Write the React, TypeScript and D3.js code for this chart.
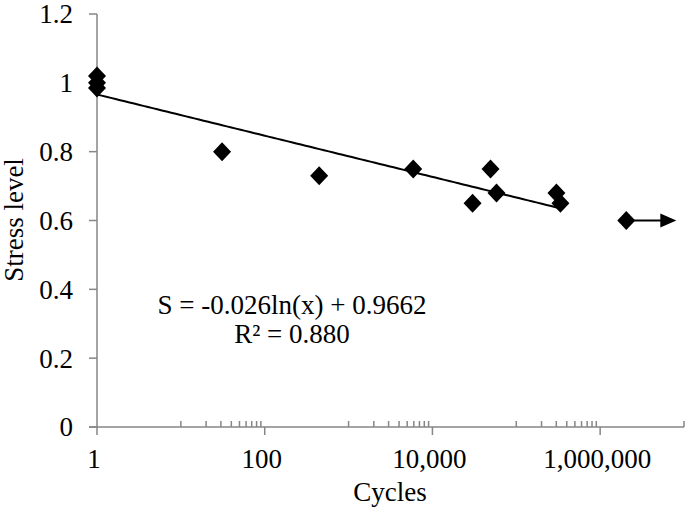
import React from "react";
import * as d3 from "d3";

// test results: cycles to failure vs stress level
const cycles = [1, 1, 1, 31, 446, 5900, 49300, 30100, 58100, 301000, 336000];
const stress = [1.02, 1.0, 0.985, 0.8, 0.73, 0.75, 0.75, 0.65, 0.68, 0.68, 0.65];

// run-out specimen (did not fail)
const runoutCycles = [2050000];
const runoutStress = [0.6];
const runoutArrowTo = 8100000;

// log fit given on the chart
const fitSlope = -0.026;
const fitIntercept = 0.9662;
const fitR2 = 0.88;

const yTicks = [0, 0.2, 0.4, 0.6, 0.8, 1, 1.2];
const xMajorTicks = [1, 100, 10000, 1000000];

const W = 685;
const H = 511;
const margin = { left: 97, right: 1, top: 14, bottom: 84 };
const font = "'Liberation Serif', 'Times New Roman', serif";
const fs = 27;
const axisColor = "#868686";

export default function App() {
  const x = d3
    .scaleLog()
    .domain([1, 1e7])
    .range([margin.left, W - margin.right]);
  const y = d3
    .scaleLinear()
    .domain([0, 1.2])
    .range([H - margin.bottom, margin.top]);

  const x0 = margin.left;
  const y0 = H - margin.bottom;

  // minor ticks: 10..90 times each major value
  const minor: number[] = [];
  xMajorTicks.slice(0, -1).forEach((m) => {
    for (let k = 1; k <= 9; k++) minor.push(m * 10 * k);
  });

  const fitMax = d3.max(cycles) as number;
  const fitXs = d3.range(0, 101).map((i) => Math.exp((Math.log(fitMax) * i) / 100));
  const fitLine = d3
    .line<number>()
    .x((d) => x(d))
    .y((d) => y(fitSlope * Math.log(d) + fitIntercept));

  const diamond = (cx: number, cy: number, rx = 9, ry = 9.5) =>
    `M${cx},${cy - ry}L${cx + rx},${cy}L${cx},${cy + ry}L${cx - rx},${cy}Z`;

  const fmt = d3.format(",");

  return (
    <svg width={W} height={H} style={{ position: "absolute", left: 0, top: 0 }}>
      <rect width={W} height={H} fill="#fff" />

      {/* y axis */}
      <line x1={x0} x2={x0} y1={y(1.2)} y2={y0} stroke={axisColor} strokeWidth={1.5} />
      {yTicks.map((t) => (
        <g key={t}>
          <line x1={x0 - 8} x2={x0} y1={y(t)} y2={y(t)} stroke={axisColor} strokeWidth={1.5} />
          <text
            x={x0 - 24}
            y={y(t)}
            dy="0.35em"
            textAnchor="end"
            fontFamily={font}
            fontSize={fs}
          >
            {t}
          </text>
        </g>
      ))}

      {/* x axis */}
      <line x1={x0 - 8} x2={x(1e7)} y1={y0} y2={y0} stroke={axisColor} strokeWidth={1.5} />
      {minor.map((t) => (
        <line key={t} x1={x(t)} x2={x(t)} y1={y0 - 6} y2={y0} stroke={axisColor} strokeWidth={1.5} />
      ))}
      <line x1={x(1e7)} x2={x(1e7)} y1={y0 - 6} y2={y0} stroke={axisColor} strokeWidth={1.5} />
      {xMajorTicks.map((t) => (
        <g key={t}>
          <line x1={x(t)} x2={x(t)} y1={y0} y2={y0 + 8} stroke={axisColor} strokeWidth={1.5} />
          <text x={x(t) - 3} y={y0 + 41} textAnchor="middle" fontFamily={font} fontSize={fs}>
            {fmt(t)}
          </text>
        </g>
      ))}

      {/* trendline */}
      <path d={fitLine(fitXs) || ""} fill="none" stroke="#000" strokeWidth={2} />

      {/* data points */}
      {cycles.map((c, i) => (
        <path key={i} d={diamond(x(c), y(stress[i]))} fill="#000" />
      ))}

      {/* run-out */}
      {runoutCycles.map((c, i) => {
        const ax = x(runoutArrowTo);
        const ay = y(runoutStress[i]);
        return (
          <g key={"r" + i}>
            <line x1={x(c)} x2={ax - 14} y1={ay} y2={ay} stroke="#000" strokeWidth={2} />
            <path d={`M${ax},${ay}L${ax - 16},${ay - 7}L${ax - 16},${ay + 7}Z`} fill="#000" />
            <path d={diamond(x(c), ay)} fill="#000" />
          </g>
        );
      })}

      {/* equation */}
      <text x={292} y={314} textAnchor="middle" fontFamily={font} fontSize={fs}>
        {`S = ${fitSlope}ln(x) + ${fitIntercept}`}
      </text>
      <text x={292} y={343} textAnchor="middle" fontFamily={font} fontSize={fs}>
        {`R² = ${fitR2.toFixed(3)}`}
      </text>

      {/* axis titles */}
      <text
        transform={`translate(23,${220}) rotate(-90)`}
        textAnchor="middle"
        fontFamily={font}
        fontSize={fs}
      >
        Stress level
      </text>
      <text x={390} y={501} textAnchor="middle" fontFamily={font} fontSize={fs}>
        Cycles
      </text>
    </svg>
  );
}
